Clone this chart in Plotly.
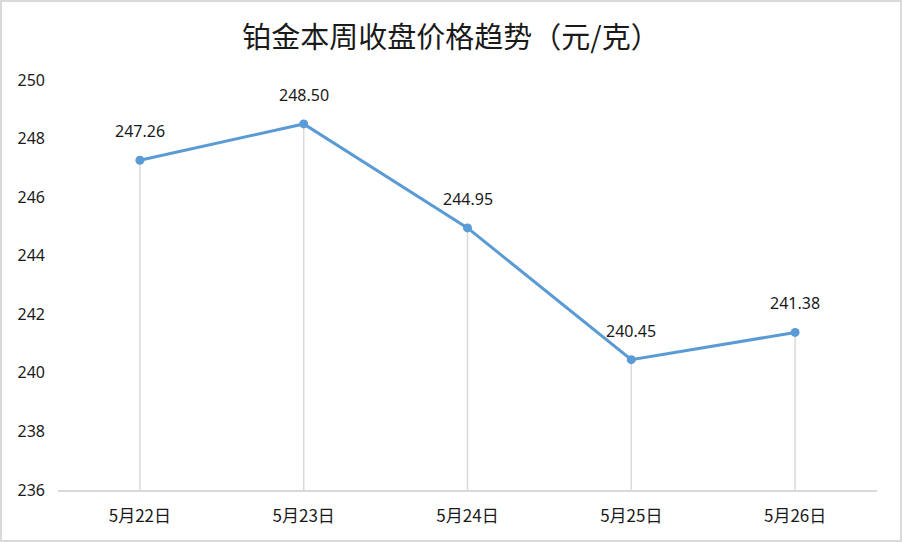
import plotly.graph_objects as go

categories = ["5月22日", "5月23日", "5月24日", "5月25日", "5月26日"]
prices = [247.26, 248.50, 244.95, 240.45, 241.38]
y_ticks = [236, 238, 240, 242, 244, 246, 248, 250]
title = "铂金本周收盘价格趋势（元/克）"

W, H = 902, 542
ML, MR, MT, MB = 58, 25, 80, 52
PW, PH = W - ML - MR, H - MT - MB

y_min, y_max = y_ticks[0], y_ticks[-1]

FONT = "Noto Sans, Noto Sans CJK SC, sans-serif"
CJK = "Noto Sans CJK SC, sans-serif"

# drop lines from each point to the axis floor
drop_x, drop_y = [], []
for c, v in zip(categories, prices):
    drop_x += [c, c, None]
    drop_y += [y_min, v, None]

fig = go.Figure()
fig.add_trace(go.Scatter(
    x=drop_x, y=drop_y, mode="lines",
    line=dict(color="#d9d9d9", width=1.5),
    hoverinfo="skip", showlegend=False,
))
fig.add_trace(go.Scatter(
    x=categories, y=prices, mode="lines+markers",
    line=dict(color="#5B9BD5", width=3),
    marker=dict(color="#5B9BD5", size=9),
    showlegend=False,
))

for c, v in zip(categories, prices):
    fig.add_annotation(
        x=c, y=v, text=f"{v:.2f}", showarrow=False,
        yshift=29, font=dict(family=FONT, size=16, color="#1a1a1a"),
    )

fig.update_layout(
    width=W, height=H,
    margin=dict(l=ML, r=MR, t=MT, b=MB),
    paper_bgcolor="white", plot_bgcolor="white",
    title=dict(text=title, x=0.5, xanchor="center", y=1 - 38 / H, yanchor="middle",
               font=dict(family=CJK, size=29, color="#1a1a1a")),
    xaxis=dict(
        type="category", range=[-0.5, len(categories) - 0.5],
        showgrid=False, zeroline=False,
        showline=True, linecolor="#d9d9d9", linewidth=1.5,
        ticks="", ticklabelstandoff=10,
        tickfont=dict(family=CJK, size=17, color="#1a1a1a"),
    ),
    yaxis=dict(
        range=[y_min, y_max], tickmode="array", tickvals=y_ticks,
        ticktext=[str(t) for t in y_ticks],
        showgrid=False, zeroline=False, showline=False,
        ticks="", ticklabelstandoff=12,
        tickfont=dict(family=FONT, size=16, color="#1a1a1a"),
    ),
    shapes=[dict(
        type="rect", xref="paper", yref="paper",
        x0=-(ML - 1) / PW, x1=1 + (MR - 1) / PW,
        y0=-(MB - 1) / PH, y1=1 + (MT - 1) / PH,
        line=dict(color="#d9d9d9", width=2), fillcolor="rgba(0,0,0,0)",
        layer="below",
    )],
)

fig.write_html(
    "out.html",
    config={"displayModeBar": False},
    post_script="document.body.style.margin='0';document.body.style.overflow='hidden';",
)
